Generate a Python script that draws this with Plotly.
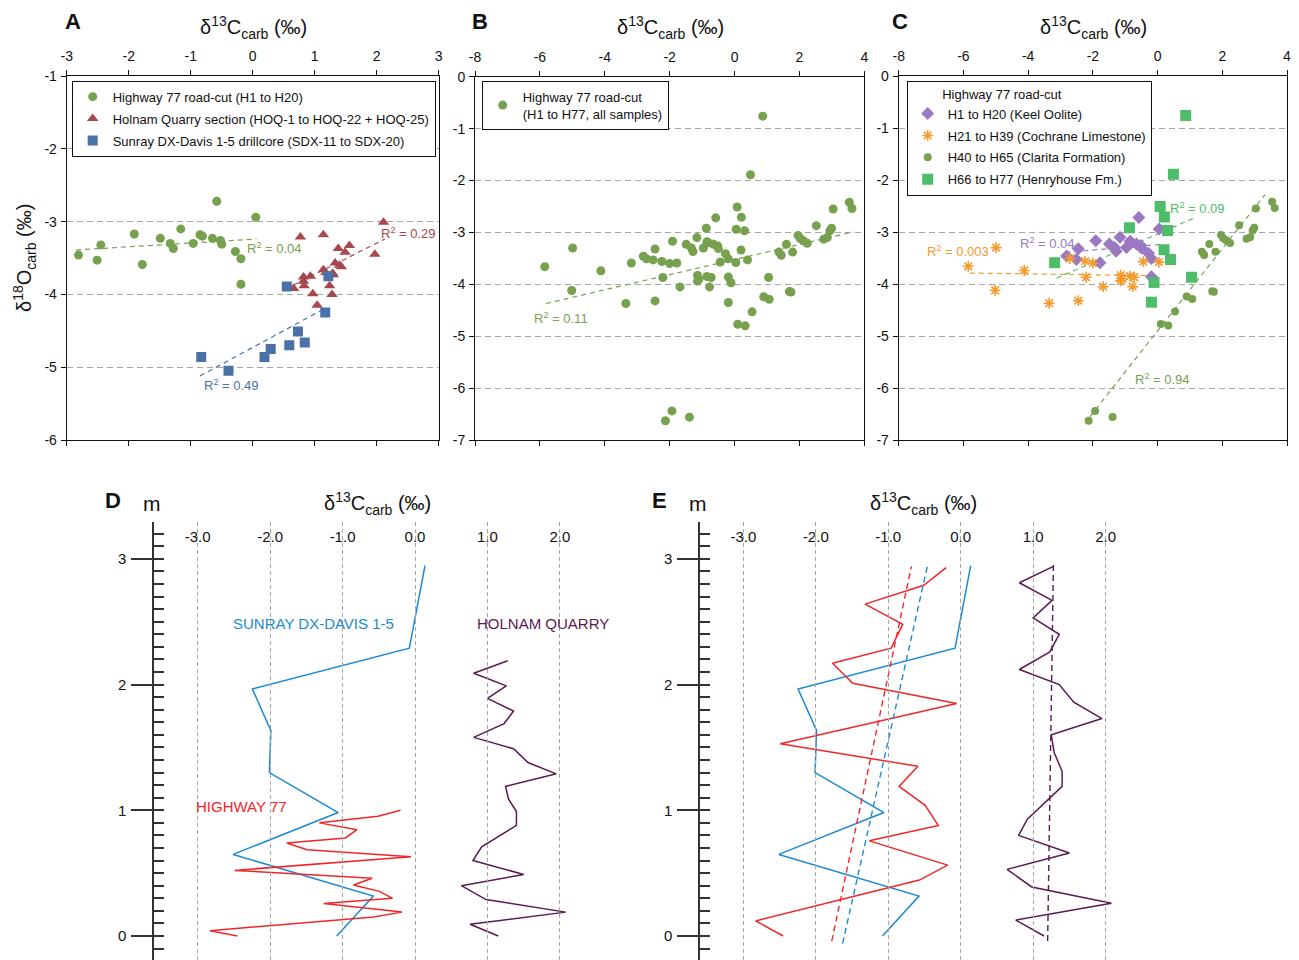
import plotly.graph_objects as go

# The page body has an 8px margin: the figure is shrunk by that amount and all
# pixel positions below (measured on the 1299x960 screen) are shifted by it.
OFF = 8
W, H = 1299 - OFF, 960 - OFF
FONT = "Liberation Sans, Arial, sans-serif"

# ---------------- Panel A data ----------------
a_hwy_c = [-2.81, -2.51, -2.45, -1.91, -1.78, -1.49, -1.33, -1.28, -1.16, -0.96,
           -0.85, -0.81, -0.65, -0.58, -0.52, -0.50, -0.28, -0.19, -0.19, 0.05]
a_hwy_o = [-3.46, -3.53, -3.32, -3.17, -3.59, -3.23, -3.30, -3.37, -3.10, -3.30,
           -3.18, -3.20, -3.23, -2.72, -3.26, -3.31, -3.41, -3.51, -3.86, -2.94]
a_hoq_c = [0.66, 0.77, 0.82, 0.82, 0.83, 0.93, 0.97, 1.04, 1.14, 1.14, 1.24, 1.28,
           1.29, 1.33, 1.38, 1.40, 1.43, 1.49, 1.56, 1.97, 2.11, 1.30, 1.18]
a_hoq_o = [-3.92, -3.21, -3.76, -3.82, -3.88, -3.75, -3.99, -4.15, -3.18, -3.66, -3.88, -4.00,
           -3.71, -3.57, -3.37, -3.60, -3.62, -3.42, -3.33, -3.45, -3.01, -3.73, -3.70]
a_sdx_c = [-0.83, -0.39, 0.19, 0.29, 0.59, 0.73, 0.84, 0.55, 1.17, 1.22]
a_sdx_o = [-4.86, -5.05, -4.86, -4.75, -4.70, -4.51, -4.66, -3.89, -4.25, -3.75]

trendA_hwy_x, trendA_hwy_y = [-2.85, 0.06], [-3.39, -3.24]
trendA_hoq_x, trendA_hoq_y = [0.66, 2.13], [-3.87, -3.24]
trendA_sdx_x, trendA_sdx_y = [-0.85, 1.17], [-5.12, -4.19]

# ---------------- Panel C groups (Highway 77) ----------------
c_h1_c, c_h1_o = a_hwy_c, a_hwy_o
c_h21_c = [-5.85, -4.99, -5.02, -4.12, -3.35, -2.71, -2.45, -2.24, -2.21, -2.00,
           -1.68, -1.14, -1.14, -1.10, -0.85, -0.77, -0.72, -0.44, 0.04]
c_h21_o = [-3.66, -3.30, -4.12, -3.74, -4.37, -3.51, -4.32, -3.56, -3.87, -3.60,
           -4.05, -3.83, -3.94, -3.90, -3.85, -4.05, -3.87, -3.57, -3.58]
c_h40_c = [-2.13, -1.93, -1.39, 0.10, 0.33, 0.54, 0.90, 1.07, 1.37, 1.44, 1.60, 1.69, 1.74,
           1.79, 1.96, 2.03, 2.12, 2.24, 2.52, 2.75, 2.86, 2.94, 2.99, 3.04, 3.54, 3.62]
c_h40_o = [-6.63, -6.44, -6.56, -4.77, -4.80, -4.53, -4.24, -4.29, -3.38, -3.44, -3.23, -4.14, -4.15,
           -3.38, -3.06, -3.12, -3.16, -3.21, -2.87, -3.13, -3.10, -2.97, -2.92, -2.55, -2.42, -2.54]
c_h66_c = [-3.18, -0.87, -0.11, -0.19, 0.08, 0.21, 0.31, 0.20, 0.40, 0.49, 0.87, 1.05]
c_h66_o = [-3.59, -2.92, -3.97, -4.35, -2.51, -2.71, -2.97, -3.34, -3.53, -1.89, -0.76, -3.87]

trendC_h1_x, trendC_h1_y = [-2.85, 0.06], [-3.39, -3.24]
trendC_h21_x, trendC_h21_y = [-5.80, 0.02], [-3.79, -3.84]
trendC_h40_x, trendC_h40_y = [-2.09, 3.32], [-6.55, -2.28]
trendC_h66_x, trendC_h66_y = [-3.12, 1.09], [-3.89, -2.74]

# ---------------- Panel B (all Highway 77 samples) ----------------
b_all_c = c_h1_c + c_h21_c + c_h40_c + c_h66_c
b_all_o = c_h1_o + c_h21_o + c_h40_o + c_h66_o
trendB_x, trendB_y = [-5.81, 3.66], [-4.37, -2.99]

# ---------------- Panels D / E (chemostratigraphy) ----------------
sunray_c = [-1.08, -0.575, -2.51, -1.06, -2.01, -1.99, -2.245, -0.078, 0.138]
sunray_d = [0.0, 0.318, 0.649, 0.982, 1.30, 1.636, 1.965, 2.29, 2.947]

hwy_c = [-2.45, -2.83, -0.57, -0.18, -1.26, -0.31, -0.49, -0.85, -0.59, -2.49,
         -0.055, -1.49, -1.77, -0.96, -0.80, -1.32, -0.51, -0.20]
hwy_d_D = [0.0, 0.042, 0.152, 0.19, 0.258, 0.30, 0.355, 0.406, 0.46, 0.522,
           0.631, 0.686, 0.74, 0.78, 0.846, 0.90, 0.952, 1.0]
hwy_d_E = [0.0, 0.12, 0.445, 0.564, 0.757, 0.88, 1.04, 1.19, 1.35, 1.53,
           1.85, 2.01, 2.17, 2.29, 2.48, 2.64, 2.79, 2.93]

holnam_c = [1.15, 0.76, 2.08, 0.98, 0.64, 1.50, 0.80, 0.92, 1.40, 1.40, 1.29,
            1.25, 1.95, 1.56, 1.36, 0.81, 1.23, 1.36, 1.00, 1.26, 0.81, 1.28]
holnam_d_D = [0.0, 0.093, 0.19, 0.29, 0.40, 0.49, 0.60, 0.71, 0.88, 0.99, 1.09,
              1.19, 1.29, 1.38, 1.49, 1.58, 1.69, 1.79, 1.89, 1.99, 2.09, 2.19]
holnam_d_E = [0.0, 0.127, 0.26, 0.39, 0.53, 0.66, 0.80, 0.93, 1.19, 1.31, 1.46,
              1.60, 1.73, 1.86, 2.00, 2.12, 2.26, 2.40, 2.53, 2.67, 2.81, 2.94]

trendE_hwy_c, trendE_hwy_d = [-1.78, -0.68], [-0.04, 2.94]
trendE_sun_c, trendE_sun_d = [-1.63, -0.46], [-0.06, 2.94]
trendE_hol_c, trendE_hol_d = [1.20, 1.28], [-0.04, 2.97]

# ---------------- tick labels ----------------
depth_ticks = [0, 1, 2, 3]
c_ticks = [-3, -2, -1, 0, 1, 2]
c_ticktext = ["-3.0", "-2.0", "-1.0", "0.0", "1.0", "2.0"]
a_xticks = [-3, -2, -1, 0, 1, 2, 3]
a_xtext = ["-3", "-2", "-1", "0", "1", "2", "3"]
a_yticks = [-6, -5, -4, -3, -2, -1]
a_ytext = ["-6", "-5", "-4", "-3", "-2", "-1"]
bc_xticks = [-8, -6, -4, -2, 0, 2, 4]
bc_xtext = ["-8", "-6", "-4", "-2", "0", "2", "4"]
bc_yticks = [-7, -6, -5, -4, -3, -2, -1, 0]
bc_ytext = ["-7", "-6", "-5", "-4", "-3", "-2", "-1", "0"]

# ---------------- colours ----------------
GREEN = "#77a04f"
RED = "#a8474d"
BLUE = "#4a72a6"
PURPLE = "#9a78c2"
ORANGE = "#f59a2c"
LGREEN = "#4dbd6a"
L_BLUE = "#1b8ad3"
L_RED = "#f0262a"
L_PURP = "#5a1a52"


def fx(px):
    return (px - OFF) / W


def fy(py):
    return 1 - (py - OFF) / H


fig = go.Figure()


def sc(x, y, xa, ya, name=None, legend=None, **kw):
    fig.add_trace(go.Scatter(x=x, y=y, xaxis=xa, yaxis=ya, name=name,
                             showlegend=name is not None, legend=legend,
                             hoverinfo="skip", **kw))


# Panel A
sc(a_hwy_c, a_hwy_o, "x", "y", "Highway 77 road-cut (H1 to H20)", "legend",
   mode="markers", marker=dict(color=GREEN, size=9, symbol="circle"), legendgroup="a1")
sc(a_hoq_c, a_hoq_o, "x", "y", "Holnam Quarry section (HOQ-1 to HOQ-22 + HOQ-25)", "legend",
   mode="markers", marker=dict(color=RED, size=10, symbol="triangle-up"), legendgroup="a2")
sc(a_sdx_c, a_sdx_o, "x", "y", "Sunray DX-Davis 1-5 drillcore (SDX-11 to SDX-20)", "legend",
   mode="markers", marker=dict(color=BLUE, size=10, symbol="square"), legendgroup="a3")
for tx, ty, col in [(trendA_hwy_x, trendA_hwy_y, GREEN), (trendA_hoq_x, trendA_hoq_y, RED),
                    (trendA_sdx_x, trendA_sdx_y, BLUE)]:
    sc(tx, ty, "x", "y", mode="lines", line=dict(color=col, width=1.2, dash="5px,4px"))

# Panel B
sc(b_all_c, b_all_o, "x2", "y2", "Highway 77 road-cut<br>(H1 to H77, all samples)", "legend2",
   mode="markers", marker=dict(color=GREEN, size=9, symbol="circle"))
sc(trendB_x, trendB_y, "x2", "y2", mode="lines", line=dict(color=GREEN, width=1.2, dash="5px,4px"))

# Panel C
for tx, ty, col in [(trendC_h1_x, trendC_h1_y, PURPLE), (trendC_h21_x, trendC_h21_y, ORANGE),
                    (trendC_h40_x, trendC_h40_y, GREEN), (trendC_h66_x, trendC_h66_y, LGREEN)]:
    sc(tx, ty, "x3", "y3", mode="lines", line=dict(color=col, width=1.2, dash="5px,4px"))
sc(c_h1_c, c_h1_o, "x3", "y3", "H1 to H20 (Keel Oolite)", "legend3",
   mode="markers", marker=dict(color=PURPLE, size=10, symbol="diamond"), legendgroup="c1")
sc(c_h21_c, c_h21_o, "x3", "y3", "H21 to H39 (Cochrane Limestone)", "legend3",
   mode="markers", marker=dict(color=ORANGE, size=9, symbol="asterisk-open",
                               line=dict(color=ORANGE, width=1.6)), legendgroup="c2")
sc(c_h40_c, c_h40_o, "x3", "y3", "H40 to H65 (Clarita Formation)", "legend3",
   mode="markers", marker=dict(color=GREEN, size=8, symbol="circle"), legendgroup="c3")
sc(c_h66_c, c_h66_o, "x3", "y3", "H66 to H77 (Henryhouse Fm.)", "legend3",
   mode="markers", marker=dict(color=LGREEN, size=11, symbol="square"), legendgroup="c4")

# Panel D
sc(sunray_c, sunray_d, "x4", "y4", mode="lines", line=dict(color=L_BLUE, width=1.5))
sc(hwy_c, hwy_d_D, "x4", "y4", mode="lines", line=dict(color=L_RED, width=1.5))
sc(holnam_c, holnam_d_D, "x4", "y4", mode="lines", line=dict(color=L_PURP, width=1.5))

# Panel E
sc(sunray_c, sunray_d, "x5", "y5", mode="lines", line=dict(color=L_BLUE, width=1.5))
sc(hwy_c, hwy_d_E, "x5", "y5", mode="lines", line=dict(color=L_RED, width=1.5))
sc(holnam_c, holnam_d_E, "x5", "y5", mode="lines", line=dict(color=L_PURP, width=1.5))
sc(trendE_hwy_c, trendE_hwy_d, "x5", "y5", mode="lines", line=dict(color=L_RED, width=1.4, dash="6px,4px"))
sc(trendE_sun_c, trendE_sun_d, "x5", "y5", mode="lines", line=dict(color=L_BLUE, width=1.4, dash="6px,4px"))
sc(trendE_hol_c, trendE_hol_d, "x5", "y5", mode="lines", line=dict(color=L_PURP, width=1.4, dash="6px,4px"))

# dummy traces for depth (m) axes
for ya in ["y6", "y7", "y8", "y9"]:
    sc([None], [None], "x4" if ya in ("y6", "y7") else "x5", ya, mode="markers")

tickfont = dict(family=FONT, size=14, color="#111")


def scatter_x(dom, rng, tv, tt, ya):
    return dict(domain=[fx(dom[0]), fx(dom[1])], range=rng, side="top", anchor=ya,
                tickvals=tv, ticktext=tt, automargin=False,
                showline=True, linecolor="#111", linewidth=1, mirror="ticks",
                ticks="outside", ticklen=5, tickcolor="#111", tickfont=tickfont,
                showgrid=False, zeroline=False, ticklabelstandoff=3)


def scatter_y(dom, rng, tv, tt, xa):
    return dict(domain=[fy(dom[1]), fy(dom[0])], range=rng, anchor=xa,
                tickvals=tv, ticktext=tt, automargin=False,
                showline=True, linecolor="#111", linewidth=1, mirror=True,
                ticks="outside", ticklen=5, tickcolor="#111", tickfont=tickfont,
                showgrid=True, gridcolor="#a6a6a6", griddash="6px,4px", gridwidth=1,
                zeroline=False, ticklabelstandoff=1)


# D/E mapping: value 0.0 at px x0, 72.45 px per unit; depth 0 at py 936, 125.7 px per m
PXU, PXM = 72.45, 125.7


def strat_x(dom, x0, ya):
    return dict(domain=[fx(dom[0]), fx(dom[1])], anchor=ya, automargin=False,
                range=[(dom[0] - x0) / PXU, (dom[1] - x0) / PXU],
                side="top", tickvals=c_ticks, ticktext=c_ticktext,
                tickfont=dict(family=FONT, size=15, color="#111"),
                ticks="outside", ticklen=8, tickcolor="rgba(0,0,0,0)",
                showline=False, zeroline=False, showgrid=True,
                gridcolor="#a6a6a6", griddash="4px,3px", gridwidth=1)


def strat_y(xa):
    return dict(domain=[fy(953), fy(557)], range=[(936 - 953) / PXM, (936 - 557) / PXM],
                anchor=xa, visible=False, automargin=False)


def depth_major(pos):
    return dict(domain=[0, fy(521.7)], range=[(936 - 960) / PXM, (936 - 521.7) / PXM],
                anchor="free", position=fx(pos), automargin=False,
                tickvals=depth_ticks, ticks="outside", ticklen=21, tickwidth=1.5,
                tickcolor="#333", showline=True, linecolor="#333", linewidth=1.5,
                tickfont=dict(family=FONT, size=15, color="#111"),
                showgrid=False, zeroline=False, ticklabelstandoff=2)


def depth_minor(pos):
    return dict(domain=[0, fy(521.7)], range=[(936 - 960) / PXM, (936 - 521.7) / PXM],
                anchor="free", position=fx(pos), tick0=0, dtick=0.1, automargin=False,
                ticks="inside", ticklen=10, tickwidth=1.5, tickcolor="#333",
                showticklabels=False, showline=False, showgrid=False, zeroline=False)


legend_common = dict(xanchor="left", yanchor="top", bordercolor="#111", borderwidth=1,
                     bgcolor="white", font=dict(family=FONT, size=13, color="#111"),
                     itemwidth=30)

fig.update_layout(
    width=W, height=H, margin=dict(l=0, r=0, t=0, b=0, autoexpand=False),
    paper_bgcolor="white", plot_bgcolor="rgba(0,0,0,0)",
    font=dict(family=FONT, color="#111"),
    xaxis=scatter_x([66.7, 438.7], [-3, 3], a_xticks, a_xtext, "y"),
    yaxis=scatter_y([76, 440], [-6, -1], a_yticks, a_ytext, "x"),
    xaxis2=scatter_x([475, 864.3], [-8, 4], bc_xticks, bc_xtext, "y2"),
    yaxis2=scatter_y([76.7, 440], [-7, 0], bc_yticks, bc_ytext, "x2"),
    xaxis3=scatter_x([898.7, 1287], [-8, 4], bc_xticks, bc_xtext, "y3"),
    yaxis3=scatter_y([76, 440], [-7, 0], bc_yticks, bc_ytext, "x3"),
    xaxis4=strat_x([160, 640], 415, "y4"),
    yaxis4=strat_y("x4"),
    xaxis5=strat_x([706, 1190], 960.7, "y5"),
    yaxis5=strat_y("x5"),
    yaxis6=depth_major(153),
    yaxis7=depth_minor(153),
    yaxis8=depth_major(699),
    yaxis9=depth_minor(699),
    legend=dict(x=fx(71.7), y=fy(80.7), tracegroupgap=2, **legend_common),
    legend2=dict(x=fx(481.7), y=fy(80.7), **legend_common),
    legend3=dict(x=fx(906.7), y=fy(80.7), tracegroupgap=2,
                 title=dict(text="\u00a0" * 9 + "Highway 77 road-cut",
                            font=dict(family=FONT, size=13, color="#111")),
                 **legend_common),
)

ann = []


def text(px, py, s, size=13, color="#111", bold=False, angle=0):
    ann.append(dict(x=fx(px), y=fy(py), xref="paper", yref="paper",
                    text=("<b>%s</b>" % s) if bold else s,
                    showarrow=False, xanchor="center", yanchor="middle", textangle=angle,
                    font=dict(family=FONT, size=size, color=color)))


title = "δ<sup>13</sup>C<sub>carb</sub> (‰)"
for cx in [253, 670, 1093]:
    text(cx, 27, title, size=20)
text(377, 503, title, size=20)
text(923, 503, title, size=20)
text(25, 258, "δ<sup>18</sup>O<sub>carb</sub> (‰)", size=20, angle=-90)
for px, py, s in [(73, 22, "A"), (480, 22, "B"), (900, 22, "C"), (113, 500, "D"), (659, 500, "E")]:
    text(px, py, s, size=22, bold=True)
text(152, 503, "m", size=21)
text(698, 503, "m", size=21)

r2 = "R<sup>2</sup> = %s"
text(274, 248, r2 % "0.04", color=GREEN)
text(409, 233, r2 % "0.29", color=RED)
text(231, 385, r2 % "0.49", color=BLUE)
text(561, 318, r2 % "0.11", color=GREEN)
text(958, 251, r2 % "0.003", color=ORANGE)
text(1047, 243, r2 % "0.04", color=PURPLE)
text(1197, 208, r2 % "0.09", color=LGREEN)
text(1162, 379, r2 % "0.94", color=GREEN)

text(313, 623, "SUNRAY DX-DAVIS 1-5", size=15, color=L_BLUE)
text(543, 623, "HOLNAM QUARRY", size=15, color=L_PURP)
text(241, 806, "HIGHWAY 77", size=15, color=L_RED)

fig.update_layout(annotations=ann)
fig.write_html("out.html")
